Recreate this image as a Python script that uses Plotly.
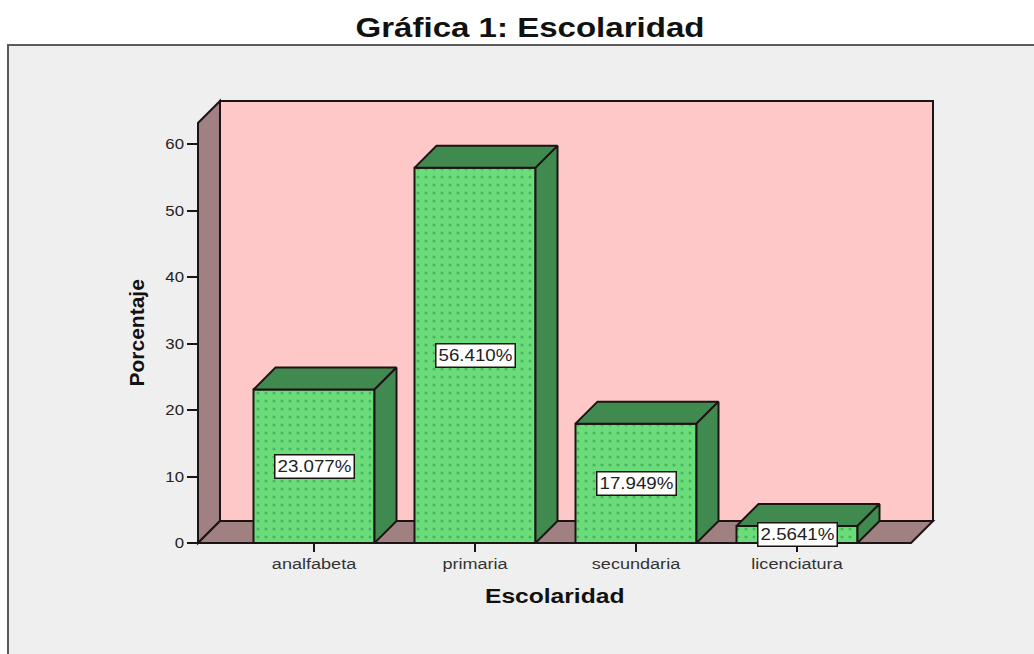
import plotly.graph_objects as go

categories = ["analfabeta", "primaria", "secundaria", "licenciatura"]
percentages = [23.077, 56.410, 17.949, 2.5641]
value_labels = ["23.077%", "56.410%", "17.949%", "2.5641%"]
y_ticks = [0, 10, 20, 30, 40, 50, 60]

W, H = 1034, 654
L, R, T, B = 198, 933, 101, 543
SPACING_PX = 161.0
PX_PER_UNIT = 6.65
DEPTH_PX = 22
BAR_W = 121 / SPACING_PX
DX = DEPTH_PX / SPACING_PX
DY = DEPTH_PX / PX_PER_UNIT
X_MIN = (L - 314) / SPACING_PX
X_MAX = (R - 314) / SPACING_PX
Y_MAX = (B - T) / PX_PER_UNIT

FRONT = "#6bdc7a"
DOT = "#2a8a46"
SIDE = "#408a50"
WALL = "#a08080"
BACK = "#ffc8c8"
PANEL = "#efefef"
INK = "#1c1414"
FONT = "Liberation Sans"


def px(v):
    return (v - L) / (R - L)


def py(v):
    return (B - v) / (B - T)


x = list(range(len(categories)))
fig = go.Figure()

fig.add_trace(go.Bar(
    x=x, y=percentages, width=BAR_W, cliponaxis=False,
    marker=dict(color=FRONT, line=dict(color=INK, width=2),
                pattern=dict(shape=".", fgcolor=DOT, bgcolor=FRONT, size=8, solidity=0.12)),
    hoverinfo="skip", showlegend=False,
))

for xi, v in zip(x, percentages):
    x0, x1 = xi - BAR_W / 2, xi + BAR_W / 2
    fig.add_trace(go.Scatter(
        x=[x0, x1, x1 + DX, x0 + DX, x0], y=[v, v, v + DY, v + DY, v],
        mode="lines", fill="toself", fillcolor=SIDE, line=dict(color=INK, width=2),
        cliponaxis=False, hoverinfo="skip", showlegend=False))
    fig.add_trace(go.Scatter(
        x=[x1, x1 + DX, x1 + DX, x1, x1], y=[0, DY, v + DY, v, 0],
        mode="lines", fill="toself", fillcolor=SIDE, line=dict(color=INK, width=2),
        cliponaxis=False, hoverinfo="skip", showlegend=False))


def poly(points, fill):
    d = "M " + " L ".join(f"{px(a)} {py(b)}" for a, b in points) + " Z"
    return dict(type="path", xref="paper", yref="paper", layer="below", path=d,
                fillcolor=fill, line=dict(color=INK, width=2))


shapes = [
    dict(type="rect", xref="paper", yref="paper", layer="below",
         x0=px(8), x1=px(W + 20), y0=py(H + 20), y1=py(45),
         fillcolor=PANEL, line=dict(color="#5a5a5a", width=2)),
    poly([(220, 101), (933, 101), (933, 521), (220, 521)], BACK),
    poly([(198, 543), (220, 521), (220, 101), (198, 123)], WALL),
    poly([(198, 543), (220, 521), (933, 521), (911, 543)], WALL),
]

annotations = [
    dict(x=xi, y=v / 2, text=t, showarrow=False, width=76, height=20, align="center",
         xanchor="center", yanchor="middle",
         font=dict(family=FONT, size=16, color="#222222"),
         bgcolor="white", bordercolor=INK, borderwidth=1.5, borderpad=1)
    for xi, v, t in zip(x, percentages, value_labels)
]
annotations.append(dict(
    xref="paper", yref="paper", x=px(554.5), y=py(596), text="Escolaridad", showarrow=False,
    xanchor="center", yanchor="middle",
    font=dict(family=FONT, size=20, color="#111111", weight=700)))
annotations.append(dict(
    xref="paper", yref="paper", x=px(137), y=py(333), text="Porcentaje", showarrow=False,
    xanchor="center", yanchor="middle", textangle=-90,
    font=dict(family=FONT, size=20, color="#111111", weight=700)))

fig.update_layout(
    width=W, height=H, autosize=False,
    margin=dict(l=L, r=W - R, t=T, b=H - B, pad=0),
    paper_bgcolor="white", plot_bgcolor="rgba(0,0,0,0)",
    font=dict(family=FONT, color="#222222"),
    showlegend=False, shapes=shapes, annotations=annotations,
    title=dict(text="Gráfica 1: Escolaridad", x=530 / W, xanchor="center",
               y=1 - 27 / H, yanchor="middle",
               font=dict(family=FONT, size=28, color="#111111", weight=700)),
    xaxis=dict(range=[X_MIN, X_MAX], tickmode="array", tickvals=x, ticktext=categories,
               ticks="outside", ticklen=8, tickwidth=2, tickcolor=INK, showgrid=False,
               zeroline=False, showline=False,
               tickfont=dict(family=FONT, size=14, color="#333333")),
    yaxis=dict(range=[0, Y_MAX], tickmode="array", tickvals=y_ticks,
               ticks="outside", ticklen=10, tickwidth=2, tickcolor=INK, showgrid=False,
               zeroline=False, showline=False,
               tickfont=dict(family=FONT, size=15, color="#222222")),
)

# The reference is a horizontally stretched screenshot: widen the glyphs to match.
stretch_js = """
(function(){
  function st(sel,f){document.querySelectorAll(sel).forEach(function(t){
    var n=t.getComputedTextLength();
    t.setAttribute('textLength',n*f);t.setAttribute('lengthAdjust','spacingAndGlyphs');});}
  document.body.style.margin='0';document.body.style.overflow='hidden';
  st('.gtitle',1.18);st('.xtick text',1.29);st('.ytick text',1.12);
  document.querySelectorAll('.annotation-text').forEach(function(t){
    var c=t.textContent,f=c==='Escolaridad'?1.23:(c==='Porcentaje'?1.05:1.17);
    var n=t.getComputedTextLength();
    t.setAttribute('textLength',n*f);t.setAttribute('lengthAdjust','spacingAndGlyphs');});
})();
"""
fig.write_html("out.html", config={"displayModeBar": False}, post_script=stretch_js)
